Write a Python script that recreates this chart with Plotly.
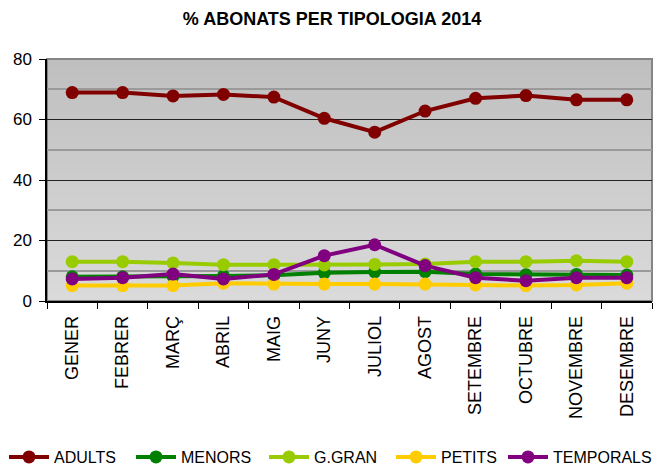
import plotly.graph_objects as go

months = ["GENER", "FEBRER", "MARÇ", "ABRIL", "MAIG", "JUNY", "JULIOL",
          "AGOST", "SETEMBRE", "OCTUBRE", "NOVEMBRE", "DESEMBRE"]

adults = [68.9, 68.9, 67.8, 68.3, 67.4, 60.4, 55.8, 62.8, 67.0, 67.9, 66.5, 66.5]
menors = [8.0, 8.0, 8.2, 8.3, 8.5, 9.3, 9.6, 9.7, 8.9, 8.7, 8.8, 8.6]
ggran = [13.0, 13.0, 12.6, 12.0, 12.0, 11.9, 12.1, 12.2, 13.0, 13.0, 13.3, 13.0]
petits = [5.1, 5.1, 5.1, 5.9, 5.6, 5.6, 5.6, 5.6, 5.3, 5.1, 5.3, 5.9]
temporals = [7.3, 7.7, 8.9, 7.3, 8.8, 15.0, 18.6, 11.7, 7.7, 6.7, 7.7, 7.7]

series = [
    ("ADULTS", adults, "#800000"),
    ("MENORS", menors, "#008000"),
    ("G.GRAN", ggran, "#99CC00"),
    ("PETITS", petits, "#FFCC00"),
    ("TEMPORALS", temporals, "#800080"),
]

# left edge (px) of each legend entry along the bottom row
legend_x_px = [4, 131, 264, 391, 503]

font_main = "Liberation Sans, Arial, sans-serif"

fig = go.Figure()
legend_layouts = {}
for i, (name, vals, color) in enumerate(series):
    key = "legend" if i == 0 else "legend%d" % (i + 1)
    fig.add_trace(go.Scatter(
        x=months, y=vals, name=name, mode="lines+markers",
        line=dict(color=color, width=4),
        marker=dict(color=color, size=13),
        legend=key,
    ))
    legend_layouts[key] = dict(
        orientation="h", xref="container", x=legend_x_px[i] / 657, xanchor="left",
        yref="container", y=9 / 466, yanchor="middle",
        font=dict(family=font_main, size=16, color="black"),
        itemwidth=40,
        bgcolor="rgba(0,0,0,0)",
    )

# vertical grey gradient behind the plot area (overlapping bands, no seams)
shapes = []
n = 60
top = (191, 191, 191)
bot = (218, 218, 218)
for i in range(n):
    t = i / (n - 1)
    c = tuple(round(bot[k] + (top[k] - bot[k]) * t) for k in range(3))
    shapes.append(dict(
        type="rect", xref="paper", yref="paper",
        x0=0, x1=1, y0=i / n, y1=min(1, (i + 2) / n),
        fillcolor="rgb(%d,%d,%d)" % c, line=dict(width=0), layer="below",
    ))
shapes.append(dict(
    type="rect", xref="paper", yref="paper", x0=0, x1=1, y0=0, y1=1,
    line=dict(color="#858585", width=2), layer="below",
))

fig.update_layout(
    width=657, height=466,
    margin=dict(l=47, r=5, t=59, b=165),
    paper_bgcolor="white",
    plot_bgcolor="rgba(0,0,0,0)",
    shapes=shapes,
    title=dict(
        text="<b>% ABONATS PER TIPOLOGIA 2014</b>",
        x=332 / 657, xref="container", xanchor="center",
        y=1 - 19 / 466, yanchor="middle",
        font=dict(family=font_main, size=18, color="black"),
    ),
    showlegend=True,
    xaxis=dict(
        type="category",
        range=[-0.5, 11.5],
        tickangle=-90,
        tickfont=dict(family=font_main, size=18, color="black"),
        ticklabelstandoff=6,
        showline=True, linecolor="black", linewidth=1.5,
        ticks="outside", tickson="boundaries", ticklen=6,
        tickcolor="black", showgrid=False,
    ),
    yaxis=dict(
        range=[0, 80], dtick=20, tick0=0,
        tickfont=dict(family=font_main, size=17, color="black"),
        ticklabelstandoff=4,
        showline=True, linecolor="black", linewidth=1.5,
        ticks="outside", ticklen=6, tickcolor="black",
        showgrid=True, gridcolor="#222222", gridwidth=1,
        zeroline=False,
        minor=dict(dtick=10, showgrid=True, gridcolor="#9a9a9a", gridwidth=1.5),
    ),
    **legend_layouts,
)

fig.write_html("out.html")
